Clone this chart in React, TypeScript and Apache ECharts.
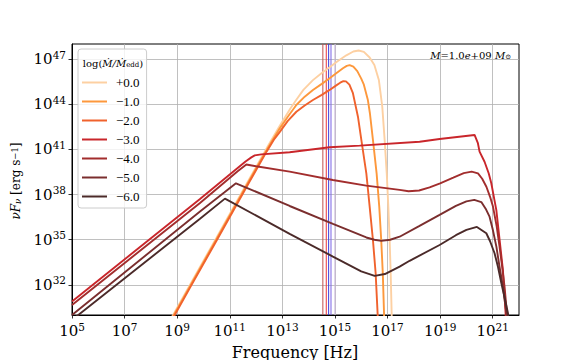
import React, { useEffect, useRef } from 'react';
import * as echarts from 'echarts';

// tick exponents (log10 of the axis values)
const xTickExps = [5, 7, 9, 11, 13, 15, 17, 19, 21];
const yTickExps = [32, 35, 38, 41, 44, 47];

// legend labels: log(Mdot / Mdot_edd)
const seriesNames = ['+0.0', '\u22121.0', '\u22122.0', '\u22123.0', '\u22124.0', '\u22125.0', '\u22126.0'];
const seriesColors = ['#fdd0a2', '#fd983c', '#f0622d', '#c9262b', '#a22d2d', '#7b2e2e', '#4b2a29'];

// SEDs as [log10 nu (Hz), log10 nuF_nu (erg/s)]
const sedP0 = [
  [8.7, 29.55], [9.5, 32.05], [10.5, 35.15], [11.765, 39.1], [12.5, 41.38], [12.897, 42.55],
  [13.3, 43.7], [13.532, 44.3], [13.8, 44.95], [14.163, 45.6], [14.5, 46.08], [14.798, 46.45],
  [15.1, 46.85], [15.433, 47.25], [15.7, 47.5], [15.9, 47.57], [16.1, 47.48], [16.32, 47.1],
  [16.5, 46.6], [16.67, 45.61], [16.8, 43.84], [16.89, 41.63], [16.97, 39.41], [17.03, 37.2],
  [17.08, 34.98], [17.12, 32.77], [17.16, 29.9], [17.18, 29.0],
];
const sedM1 = [
  [8.7, 29.45], [9.5, 31.95], [10.5, 35.05], [11.765, 39.0], [12.5, 41.25], [12.897, 42.38],
  [13.2, 43.15], [13.532, 43.95], [13.85, 44.5], [14.163, 44.95], [14.5, 45.35], [14.798, 45.72],
  [15.05, 46.05], [15.304, 46.39], [15.45, 46.55], [15.56, 46.6], [15.7, 46.5], [15.85, 46.2],
  [16.0, 45.7], [16.1, 45.3], [16.25, 44.3], [16.33, 43.4], [16.445, 41.63], [16.585, 39.41],
  [16.685, 37.2], [16.76, 34.98], [16.82, 32.77], [16.875, 29.67], [16.9, 29.0],
];
const sedM2 = [
  [8.7, 29.35], [9.5, 31.85], [10.5, 34.95], [11.765, 38.9], [12.4, 40.85], [12.7, 41.7],
  [12.897, 42.15], [13.2, 42.88], [13.532, 43.5], [13.85, 43.92], [14.163, 44.28], [14.5, 44.62],
  [14.798, 44.95], [15.05, 45.25], [15.2, 45.43], [15.32, 45.53], [15.42, 45.52], [15.55, 45.3],
  [15.684, 44.73], [15.875, 43.17], [16.004, 41.63], [16.194, 39.41], [16.32, 37.2], [16.445, 34.98],
  [16.548, 32.77], [16.635, 29.67], [16.66, 29.0],
];
const sedM3 = [
  [5, 30.9], [9.856, 37.69], [11.6, 40.2], [11.82, 40.47], [11.95, 40.6], [12.2, 40.67],
  [13.278, 40.81], [14.8, 41.14], [15.94, 41.25], [18.22, 41.51], [18.98, 41.69], [20.31, 41.96],
  [20.437, 41.41], [20.5, 40.85], [20.69, 40.18], [20.85, 39.4], [20.947, 38.75], [21.07, 37.6],
  [21.137, 36.98], [21.262, 34.99], [21.388, 32.99], [21.49, 30.14], [21.52, 29.0],
];
const sedM4 = [
  [5, 30.67], [9.856, 37.42], [11.3, 39.55], [11.63, 40.0], [12.0, 39.88], [13.278, 39.52],
  [14.92, 38.97], [16.19, 38.59], [17.46, 38.31], [17.8, 38.22], [18.2, 38.27], [18.6, 38.48],
  [19.0, 38.75], [19.5, 39.12], [19.9, 39.42], [20.2, 39.52], [20.44, 39.41], [20.6, 39.05],
  [20.76, 38.52], [20.9, 37.85], [21.01, 37.2], [21.15, 35.9], [21.26, 34.54], [21.36, 33.2],
  [21.45, 31.88], [21.54, 30.12], [21.58, 29.2],
];
const sedM5 = [
  [5, 30.0], [9.856, 36.86], [10.8, 38.15], [11.236, 38.75], [13.278, 37.24], [14.924, 36.05],
  [16.194, 35.15], [16.5, 35.0], [16.764, 34.92], [17.1, 35.0], [17.46, 35.2], [18.2, 35.9],
  [18.98, 36.65], [19.6, 37.25], [20.0, 37.55], [20.3, 37.65], [20.567, 37.5], [20.75, 37.0],
  [20.88, 36.53], [21.0, 35.7], [21.14, 34.54], [21.26, 33.2], [21.39, 31.88], [21.52, 30.12],
  [21.56, 29.2],
];
const sedM6 = [
  [5, 29.67], [9.856, 36.38], [10.817, 37.73], [13.278, 35.39], [14.924, 33.88], [16.0, 32.9],
  [16.51, 32.6], [16.9, 32.72], [17.46, 33.21], [17.84, 33.6], [18.98, 34.65], [19.6, 35.3],
  [20.0, 35.65], [20.4, 35.85], [20.757, 35.43], [20.9, 34.9], [21.07, 34.1], [21.2, 33.2],
  [21.33, 32.11], [21.46, 31.1], [21.58, 30.12], [21.62, 29.2],
];
const seds = [sedP0, sedM1, sedM2, sedM3, sedM4, sedM5, sedM6];

// optical filter bands (log10 nu)
const bandLogNu = [14.54, 14.67, 14.76, 14.85, 15.0];
const bandColors = ['#c0504d', '#e8343a', '#3c3cdc', '#7a62e6', '#c8b4dc'];

const yRange = [30, 48];
const xRange = [5, 22];

const tickRich = {
  b: { fontFamily: 'DejaVu Serif', fontSize: 15, color: '#000', lineHeight: 20 },
  s: { fontFamily: 'DejaVu Serif', fontSize: 10.5, color: '#000', lineHeight: 11, verticalAlign: 'top' as const },
};

export default function App() {
  const ref = useRef<HTMLDivElement>(null);
  useEffect(() => {
    const chart = echarts.init(ref.current!, null, { renderer: 'svg' });
    const bandSeries = bandLogNu.map((v, i) => ({
      name: 'band' + i,
      type: 'line',
      data: [[v, yRange[0]], [v, yRange[1]]],
      symbol: 'none',
      silent: true,
      lineStyle: { color: bandColors[i], width: 1 },
      z: 2,
    }));
    const sedSeries = seds.map((d, i) => ({
      name: seriesNames[i],
      type: 'line',
      data: d,
      symbol: 'none',
      silent: true,
      clip: true,
      lineStyle: { color: seriesColors[i], width: 1.9 },
      itemStyle: { color: seriesColors[i] },
      z: 3,
    }));
    const option: any = {
      animation: false,
      backgroundColor: '#fff',
      grid: { left: 72, right: 57, top: 44, bottom: 45, show: true, borderColor: '#000', borderWidth: 1, backgroundColor: 'transparent' },
      xAxis: {
        type: 'value',
        min: xRange[0],
        max: xRange[1],
        interval: 2,
        axisLine: { show: true, lineStyle: { color: '#000', width: 1 } },
        axisTick: { show: true, length: 3.5, lineStyle: { color: '#000', width: 0.8 }, customValues: xTickExps },
        axisLabel: {
          customValues: xTickExps,
          margin: 6,
          formatter: (v: number) => `{b|10}{s|${v}}`,
          rich: tickRich,
        },
        splitLine: { show: true, lineStyle: { color: '#b0b0b0', width: 0.8 } },
      },
      yAxis: {
        type: 'value',
        min: yRange[0],
        max: yRange[1],
        axisLine: { show: true, lineStyle: { color: '#000', width: 1 } },
        axisTick: { show: true, length: 3.5, lineStyle: { color: '#000', width: 0.8 }, customValues: yTickExps },
        axisLabel: {
          customValues: yTickExps,
          margin: 6,
          formatter: (v: number) => `{b|10}{s|${v}}`,
          rich: tickRich,
        },
        splitLine: { show: true, lineStyle: { color: '#b0b0b0', width: 0.8 } },
      },
      legend: {
        data: seriesNames,
        orient: 'vertical',
        left: 78,
        top: 49,
        padding: [27, 7, 5, 4],
        itemGap: 6,
        itemWidth: 25,
        itemHeight: 2,
        icon: 'rect',
        selectedMode: false,
        backgroundColor: 'rgba(255,255,255,0.8)',
        borderColor: '#cccccc',
        borderWidth: 1,
        borderRadius: 3,
        textStyle: { fontFamily: 'Liberation Serif', fontSize: 13, color: '#000', padding: [0, 0, 0, 4] },
      },
      graphic: [
        {
          type: 'text', x: 113, y: 63, z: 100,
          style: {
            text: 'log({i|\u1E40/\u1E40}{sub|edd})',
            rich: {
              i: { fontFamily: 'DejaVu Serif', fontStyle: 'italic', fontSize: 10, fill: '#000' },
              sub: { fontFamily: 'DejaVu Serif', fontSize: 7, fill: '#000', verticalAlign: 'bottom', lineHeight: 8 },
            },
            fontFamily: 'DejaVu Serif', fontSize: 10, fill: '#000', align: 'center', verticalAlign: 'middle',
          },
        },
        {
          type: 'text', x: 511, y: 55, z: 100,
          style: {
            text: '{i|M}=1.0{i|e}+09 {i|M}{sub|\u2299}',
            rich: {
              i: { fontFamily: 'DejaVu Serif', fontStyle: 'italic', fontSize: 10, fill: '#000' },
              sub: { fontFamily: 'DejaVu Serif', fontSize: 7, fill: '#000', verticalAlign: 'bottom', lineHeight: 8 },
            },
            fontFamily: 'DejaVu Serif', fontSize: 10, fill: '#000', align: 'right', verticalAlign: 'middle',
          },
        },
        {
          type: 'text', x: 295, y: 352, z: 100,
          style: { text: 'Frequency [Hz]', fontFamily: 'DejaVu Serif', fontSize: 16, fill: '#000', align: 'center', verticalAlign: 'middle' },
        },
        {
          type: 'text', x: 16, y: 181, z: 100, rotation: Math.PI / 2,
          style: {
            text: '{i|\u03BDF}{sub|\u03BD} [erg s{sup|\u22121}]',
            rich: {
              i: { fontFamily: 'DejaVu Serif', fontStyle: 'italic', fontSize: 12, fill: '#000' },
              sub: { fontFamily: 'DejaVu Serif', fontStyle: 'italic', fontSize: 8.5, fill: '#000', verticalAlign: 'bottom', lineHeight: 9 },
              sup: { fontFamily: 'DejaVu Serif', fontSize: 8.5, fill: '#000', verticalAlign: 'top', lineHeight: 9 },
            },
            fontFamily: 'DejaVu Serif', fontSize: 12, fill: '#000', align: 'center', verticalAlign: 'middle',
          },
        },
      ],
      series: [...bandSeries, ...sedSeries],
    };
    chart.setOption(option);
    return () => chart.dispose();
  }, []);
  return <div ref={ref} style={{ position: 'absolute', left: 0, top: 0, width: 576, height: 360 }} />;
}
